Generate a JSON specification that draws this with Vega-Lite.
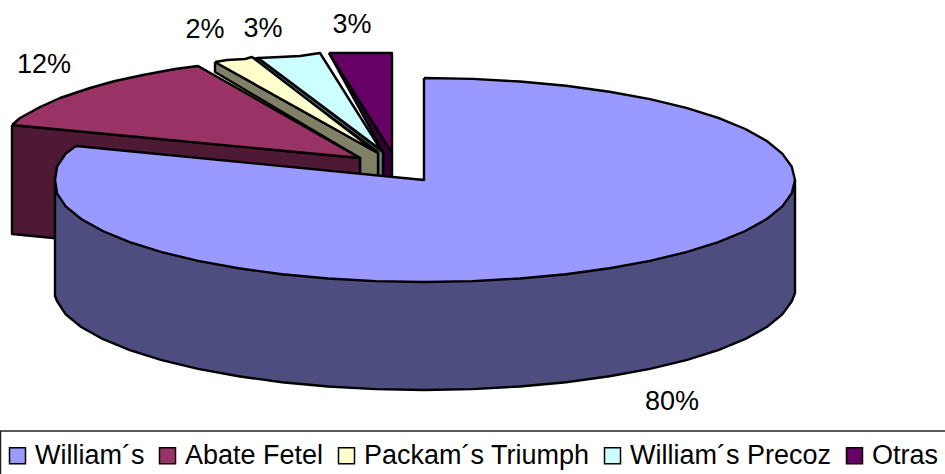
{
"$schema":"https://vega.github.io/schema/vega-lite/v6.json",
"width":945,"height":474,"padding":0,"autosize":{"type":"none"},
"background":"white",
"config":{"view":{"stroke":null},"font":"Liberation Sans"},
"layer":[
{"data":{"values":[{"item":"marco legend","x":0.5,"x2":960,"y":431,"y2":490}]},
"mark":{"type":"rect","fill":"white","stroke":"#222222","strokeWidth":1.5,"clip":false},
"encoding":{
"x":{"field":"x","type":"quantitative","scale":{"domain":[0,945],"nice":false,"zero":false},"axis":null},
"x2":{"field":"x2"},
"y":{"field":"y","type":"quantitative","scale":{"domain":[0,474],"reverse":true,"nice":false,"zero":false},"axis":null},
"y2":{"field":"y2"}
}},
{"data":{"values":[
{"part":"Otras (lado)","x":329,"y":53},{"part":"Otras (lado)","x":392,"y":153},{"part":"Otras (lado)","x":392,"y":180},{"part":"Otras (lado)","x":383,"y":180},{"part":"Otras (lado)","x":383,"y":152},{"part":"Otras (lado)","x":329,"y":53},
{"part":"Otras","x":329,"y":53},{"part":"Otras","x":392,"y":53},{"part":"Otras","x":392,"y":153},{"part":"Otras","x":329,"y":53},
{"part":"William´s Precoz (lado)","x":252,"y":59},{"part":"William´s Precoz (lado)","x":258,"y":58},{"part":"William´s Precoz (lado)","x":383,"y":152},{"part":"William´s Precoz (lado)","x":383,"y":180},{"part":"William´s Precoz (lado)","x":378,"y":180},{"part":"William´s Precoz (lado)","x":378,"y":152},{"part":"William´s Precoz (lado)","x":252,"y":59},
{"part":"William´s Precoz","x":258,"y":58},{"part":"William´s Precoz","x":280,"y":57},{"part":"William´s Precoz","x":300,"y":56},{"part":"William´s Precoz","x":320,"y":53},{"part":"William´s Precoz","x":381,"y":150},{"part":"William´s Precoz","x":258,"y":58},
{"part":"Packam´s Triumph (lado)","x":215,"y":62},{"part":"Packam´s Triumph (lado)","x":378,"y":153},{"part":"Packam´s Triumph (lado)","x":378,"y":180},{"part":"Packam´s Triumph (lado)","x":360,"y":180},{"part":"Packam´s Triumph (lado)","x":360,"y":158},{"part":"Packam´s Triumph (lado)","x":215,"y":72},{"part":"Packam´s Triumph (lado)","x":215,"y":62},
{"part":"Packam´s Triumph","x":215,"y":62},{"part":"Packam´s Triumph","x":227,"y":60},{"part":"Packam´s Triumph","x":245,"y":59},{"part":"Packam´s Triumph","x":252,"y":57},{"part":"Packam´s Triumph","x":376,"y":152},{"part":"Packam´s Triumph","x":215,"y":62},
{"part":"Abate Fetel (lado)","x":12,"y":125},{"part":"Abate Fetel (lado)","x":360,"y":158},{"part":"Abate Fetel (lado)","x":360,"y":268},{"part":"Abate Fetel (lado)","x":12,"y":234},{"part":"Abate Fetel (lado)","x":12,"y":125},
{"part":"Abate Fetel","x":12,"y":125},{"part":"Abate Fetel","x":20,"y":118},{"part":"Abate Fetel","x":40,"y":107},{"part":"Abate Fetel","x":60,"y":98},{"part":"Abate Fetel","x":90,"y":88},{"part":"Abate Fetel","x":115,"y":81},{"part":"Abate Fetel","x":143,"y":75},{"part":"Abate Fetel","x":175,"y":69},{"part":"Abate Fetel","x":198,"y":66},{"part":"Abate Fetel","x":360,"y":158},{"part":"Abate Fetel","x":12,"y":125},
{"part":"William´s (lado)","x":795,"y":180},{"part":"William´s (lado)","x":795,"y":293},{"part":"William´s (lado)","x":791.8,"y":301.3},{"part":"William´s (lado)","x":782.3,"y":314.4},{"part":"William´s (lado)","x":766.8,"y":327},{"part":"William´s (lado)","x":745.3,"y":339},{"part":"William´s (lado)","x":718.3,"y":350.1},{"part":"William´s (lado)","x":686.3,"y":360.1},{"part":"William´s (lado)","x":650,"y":368.9},{"part":"William´s (lado)","x":609.5,"y":376.3},{"part":"William´s (lado)","x":566,"y":382.2},{"part":"William´s (lado)","x":520,"y":386.5},{"part":"William´s (lado)","x":472.4,"y":389.1},{"part":"William´s (lado)","x":424,"y":390},{"part":"William´s (lado)","x":375.6,"y":389.1},{"part":"William´s (lado)","x":328,"y":386.5},{"part":"William´s (lado)","x":282,"y":382.2},{"part":"William´s (lado)","x":238.5,"y":376.3},{"part":"William´s (lado)","x":198,"y":368.9},{"part":"William´s (lado)","x":161.7,"y":360.1},{"part":"William´s (lado)","x":129.7,"y":350.1},{"part":"William´s (lado)","x":102.7,"y":339},{"part":"William´s (lado)","x":81.2,"y":327},{"part":"William´s (lado)","x":65.7,"y":314.4},{"part":"William´s (lado)","x":57,"y":301},{"part":"William´s (lado)","x":55,"y":296},{"part":"William´s (lado)","x":55,"y":180},{"part":"William´s (lado)","x":795,"y":180},
{"part":"William´s","x":424,"y":78},{"part":"William´s","x":472.4,"y":78.9},{"part":"William´s","x":520,"y":81.5},{"part":"William´s","x":566,"y":85.8},{"part":"William´s","x":609.5,"y":91.7},{"part":"William´s","x":650,"y":99.1},{"part":"William´s","x":686.3,"y":107.9},{"part":"William´s","x":718.3,"y":117.9},{"part":"William´s","x":745.3,"y":129},{"part":"William´s","x":766.8,"y":141},{"part":"William´s","x":782.3,"y":153.6},{"part":"William´s","x":791.8,"y":166.7},{"part":"William´s","x":795,"y":180},{"part":"William´s","x":791.8,"y":193.3},{"part":"William´s","x":782.3,"y":206.4},{"part":"William´s","x":766.8,"y":219},{"part":"William´s","x":745.3,"y":231},{"part":"William´s","x":718.3,"y":242.1},{"part":"William´s","x":686.3,"y":252.1},{"part":"William´s","x":650,"y":260.9},{"part":"William´s","x":609.5,"y":268.3},{"part":"William´s","x":566,"y":274.2},{"part":"William´s","x":520,"y":278.5},{"part":"William´s","x":472.4,"y":281.1},{"part":"William´s","x":424,"y":282},{"part":"William´s","x":375.6,"y":281.1},{"part":"William´s","x":328,"y":278.5},{"part":"William´s","x":282,"y":274.2},{"part":"William´s","x":238.5,"y":268.3},{"part":"William´s","x":198,"y":260.9},{"part":"William´s","x":161.7,"y":252.1},{"part":"William´s","x":129.7,"y":242.1},{"part":"William´s","x":102.7,"y":231},{"part":"William´s","x":81.2,"y":219},{"part":"William´s","x":65.7,"y":206.4},{"part":"William´s","x":57,"y":193.3},{"part":"William´s","x":55,"y":180},{"part":"William´s","x":57,"y":166.7},{"part":"William´s","x":65.7,"y":153.6},{"part":"William´s","x":76,"y":146},{"part":"William´s","x":424,"y":180},{"part":"William´s","x":424,"y":78}
]},
"mark":{"type":"line","stroke":"black","strokeWidth":2.4,"strokeJoin":"round","clip":false},
"encoding":{
"x":{"field":"x","type":"quantitative","scale":{"domain":[0,945],"nice":false,"zero":false},"axis":null},
"y":{"field":"y","type":"quantitative","scale":{"domain":[0,474],"reverse":true,"nice":false,"zero":false},"axis":null},
"order":{"value":null},
"detail":{"field":"part"},
"fill":{"field":"part","type":"nominal","sort":null,
"scale":{"domain":["William´s","Abate Fetel","Packam´s Triumph","William´s Precoz","Otras","William´s (lado)","Abate Fetel (lado)","Packam´s Triumph (lado)","William´s Precoz (lado)","Otras (lado)"],
"range":["#9999ff","#993366","#ffffcc","#ccffff","#660066","#4d4d80","#4d1933","#808066","#668080","#330033"]},
"legend":{"title":null,"orient":"none","legendX":-6,"legendY":432,"direction":"horizontal","columns":5,
"values":["William´s","Abate Fetel","Packam´s Triumph","William´s Precoz","Otras"],
"symbolType":"square","symbolSize":256,"symbolStrokeColor":"black","symbolStrokeWidth":1.5,"labelFont":"Liberation Sans","labelFontSize":27,"labelColor":"black","labelLimit":400,"labelOffset":4,"columnPadding":9,"padding":10}}
}},
{"data":{"values":[
{"slice":"William´s","share":0.80,"x":672,"y":402},
{"slice":"Abate Fetel","share":0.12,"x":44,"y":65},
{"slice":"Packam´s Triumph","share":0.02,"x":205,"y":30},
{"slice":"William´s Precoz","share":0.03,"x":263,"y":29},
{"slice":"Otras","share":0.03,"x":352,"y":25}
]},
"mark":{"type":"text","font":"Liberation Sans","fontSize":27,"color":"black","align":"center","baseline":"middle"},
"encoding":{
"x":{"field":"x","type":"quantitative","scale":{"domain":[0,945],"nice":false,"zero":false},"axis":null},
"y":{"field":"y","type":"quantitative","scale":{"domain":[0,474],"reverse":true,"nice":false,"zero":false},"axis":null},
"text":{"field":"share","type":"quantitative","format":".0%"}
}}
]
}
